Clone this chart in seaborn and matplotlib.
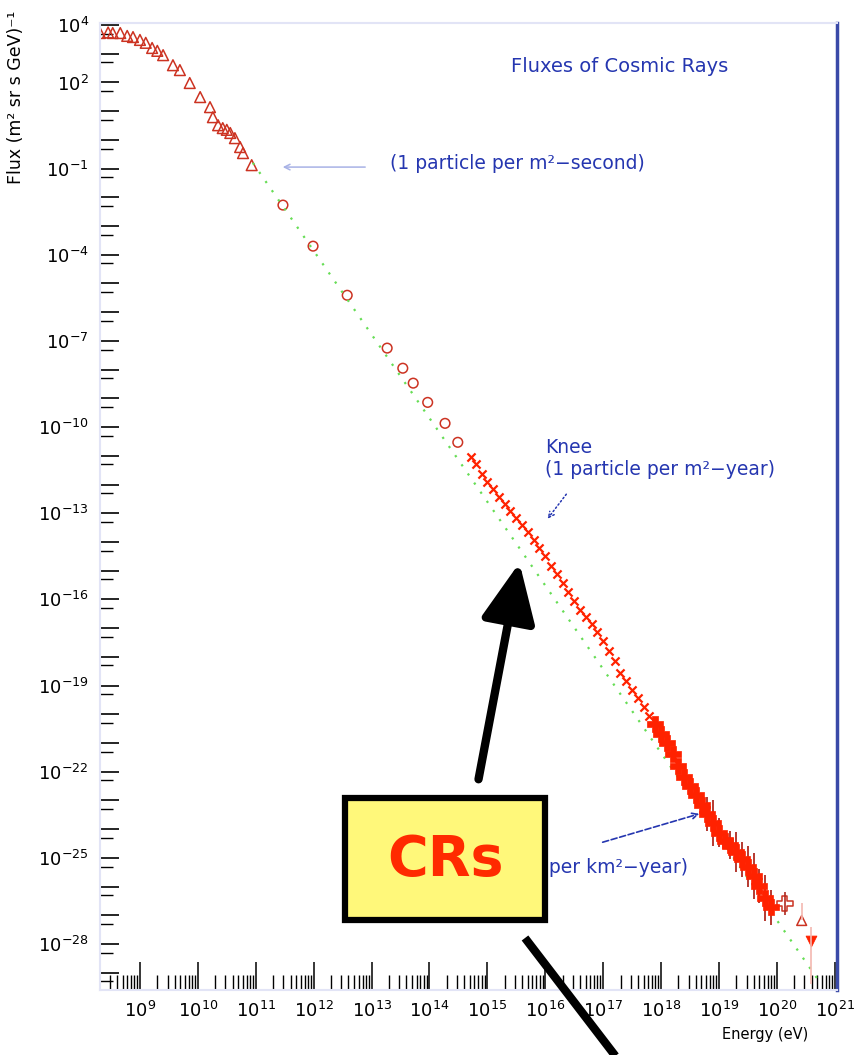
import numpy as np
import pandas as pd
import matplotlib
matplotlib.use("Agg")
import matplotlib.pyplot as plt
import seaborn as sns
from matplotlib.ticker import FixedLocator, FuncFormatter, LogLocator, NullFormatter
from matplotlib.patches import Rectangle, FancyArrowPatch
from matplotlib.lines import Line2D

# log10 energy (eV) / log10 flux (m^2 sr s GeV)^-1
tri_logE = [8.31, 8.45, 8.53, 8.66, 8.78, 8.88, 9.0, 9.1, 9.21, 9.3, 9.4, 9.57, 9.69, 9.86,
            10.04, 10.21, 10.26, 10.35, 10.43, 10.5, 10.56, 10.64, 10.73, 10.78, 10.93]
tri_logF = [3.72, 3.74, 3.72, 3.72, 3.62, 3.58, 3.48, 3.38, 3.2, 3.1, 2.95, 2.6, 2.43, 1.98,
            1.49, 1.14, 0.79, 0.51, 0.41, 0.35, 0.24, 0.06, -0.25, -0.46, -0.88]

circ_logE = [11.47, 11.99, 12.58, 13.27, 13.54, 13.72, 13.97, 14.27, 14.49]
circ_logF = [-2.27, -3.70, -5.41, -7.25, -7.95, -8.47, -9.14, -9.87, -10.53]

knee_logE = [14.72, 14.8, 14.9, 15.0, 15.1, 15.2, 15.3, 15.4, 15.5, 15.6, 15.7, 15.8, 15.9,
             16.0, 16.1, 16.2, 16.3, 16.4, 16.5, 16.6, 16.7, 16.8, 16.9, 17.0, 17.1, 17.2,
             17.3, 17.4, 17.5, 17.6, 17.7, 17.8]
knee_logF = [-11.05, -11.3, -11.62, -11.9, -12.15, -12.45, -12.68, -12.92, -13.15, -13.4,
             -13.66, -13.92, -14.2, -14.5, -14.82, -15.12, -15.43, -15.75, -16.05, -16.36,
             -16.62, -16.86, -17.12, -17.45, -17.8, -18.15, -18.55, -18.85, -19.15, -19.45,
             -19.75, -20.05]

uhe_logE = [17.9, 18.0, 18.1, 18.2, 18.3, 18.4, 18.5, 18.6, 18.7, 18.8, 18.9, 19.0, 19.1,
            19.2, 19.3, 19.4, 19.5, 19.6, 19.7, 19.8, 19.9]
uhe_logF = [-20.35, -20.68, -21.0, -21.38, -21.8, -22.2, -22.5, -22.82, -23.15, -23.48,
            -23.8, -24.12, -24.4, -24.55, -24.8, -25.05, -25.3, -25.62, -25.98, -26.4, -26.72]
uhe_err = [0.1, 0.1, 0.1, 0.15, 0.15, 0.15, 0.2, 0.2, 0.3, 0.6, 0.8, 0.5, 0.3, 0.5, 0.7,
           0.6, 0.7, 0.8, 0.6, 0.8, 0.6]

cross_logE = [20.14]
cross_logF = [-26.59]
agasa_logE = [20.43]
agasa_logF = [-27.18]
limit_logE = [20.59]
limit_logF = [-27.88]

# E^-2.7-ish reference line (two end points)
ref_logE = [10.95, 20.75]
ref_logF = [-0.8, -29.35]

y_labelled = [4, 2, -1, -4, -7, -10, -13, -16, -19, -22, -25, -28]

red_dark = "#cc3322"
red = "#ff2200"
blue = "#2536b0"

sns.set_style("white")
plt.rcParams["font.family"] = ["DejaVu Sans"]


def to_df(le, lf):
    return pd.DataFrame({"energy": 10.0 ** np.array(le), "flux": 10.0 ** np.array(lf)})


fig = plt.figure(figsize=(8.61, 10.55), dpi=100)
ax = fig.add_axes([100 / 861, 1 - 990 / 1055, 737 / 861, 967 / 1055])
ax.set_xscale("log")
ax.set_yscale("log")

sns.lineplot(data=to_df(ref_logE, ref_logF), x="energy", y="flux", ax=ax,
             color="#66dd55", linestyle=(0, (1, 4)), linewidth=1.6)

sns.scatterplot(data=to_df(tri_logE, tri_logF), x="energy", y="flux", ax=ax,
                marker="^", s=60, facecolor="none", edgecolor=red_dark, linewidth=1.1)
sns.scatterplot(data=to_df(circ_logE, circ_logF), x="energy", y="flux", ax=ax,
                marker="o", s=48, facecolor="none", edgecolor=red_dark, linewidth=1.1)
sns.scatterplot(data=to_df(knee_logE, knee_logF), x="energy", y="flux", ax=ax,
                marker="x", s=34, color=red, linewidth=1.6)

uhe = to_df(uhe_logE, uhe_logF)
lo = uhe["flux"] - uhe["flux"] * 10.0 ** (-np.array(uhe_err))
hi = uhe["flux"] * 10.0 ** np.array(uhe_err) - uhe["flux"]
ax.errorbar(uhe["energy"], uhe["flux"], yerr=[lo, hi], fmt="none",
            ecolor="#b02a20", elinewidth=1.3)
sns.scatterplot(data=uhe, x="energy", y="flux", ax=ax,
                marker="P", s=120, color=red, edgecolor=red, linewidth=0.5, zorder=3)

cr = to_df(cross_logE, cross_logF)
ax.errorbar(cr["energy"], cr["flux"], yerr=[cr["flux"] * 0.6, cr["flux"] * 1.5],
            fmt="none", ecolor="#b02a20", elinewidth=1.2)
sns.scatterplot(data=cr, x="energy", y="flux", ax=ax, marker="P", s=120,
                facecolor="none", edgecolor=red_dark, linewidth=1.1)

ag = to_df(agasa_logE, agasa_logF)
ax.errorbar(ag["energy"], ag["flux"], yerr=[ag["flux"] * 0.0, ag["flux"] * 3.0],
            fmt="none", ecolor="#f4b8b0", elinewidth=1.2)
sns.scatterplot(data=ag, x="energy", y="flux", ax=ax, marker="^", s=50,
                facecolor="none", edgecolor=red_dark, linewidth=1.1)

lm = to_df(limit_logE, limit_logF)
ax.errorbar(lm["energy"], lm["flux"], yerr=[lm["flux"] * 0.97, lm["flux"] * 2.0],
            fmt="none", ecolor="#f4b8b0", elinewidth=1.2)
sns.scatterplot(data=lm, x="energy", y="flux", ax=ax, marker="v", s=60,
                color=red, edgecolor=red)

ax.set_xlim(10 ** 8.31, 10 ** 21.04)
ax.set_ylim(10 ** -29.6, 10 ** 4.07)

# ticks
exp_fmt = FuncFormatter(lambda v, p: f"$10^{{{int(round(np.log10(v)))}}}$")
ax.xaxis.set_major_locator(LogLocator(base=10, numticks=40))
ax.xaxis.set_minor_locator(LogLocator(base=10, subs=np.arange(2, 10), numticks=40))
ax.xaxis.set_major_formatter(exp_fmt)
ax.xaxis.set_minor_formatter(NullFormatter())

ax.yaxis.set_major_locator(FixedLocator([10.0 ** k for k in range(-29, 5)]))
ax.yaxis.set_minor_locator(FixedLocator([5 * 10.0 ** k for k in range(-30, 4)]))
ax.yaxis.set_major_formatter(FuncFormatter(
    lambda v, p: f"$10^{{{int(round(np.log10(v)))}}}$" if int(round(np.log10(v))) in y_labelled else ""))
ax.yaxis.set_minor_formatter(NullFormatter())

ax.tick_params(axis="x", which="major", direction="in", length=20, width=1.1, pad=8,
               labelsize=13, color="black", labelcolor="black", bottom=True, top=False)
ax.tick_params(axis="x", which="minor", direction="in", length=11, width=1.0,
               color="black", bottom=True, top=False)
ax.tick_params(axis="y", which="major", direction="in", length=14, width=1.2, pad=8,
               labelsize=13, color="black", labelcolor="black", left=True, right=False)
ax.tick_params(axis="y", which="minor", direction="in", length=9, width=1.0,
               color="black", left=True, right=False)

for side in ["left", "top", "bottom"]:
    ax.spines[side].set_color("#e2e4f6")
    ax.spines[side].set_linewidth(1.5)
ax.spines["right"].set_color("#3a4aa8")
ax.spines["right"].set_linewidth(2.5)

ax.set_xlabel("Energy (eV)", fontsize=10.5, loc="right", color="black")
ax.xaxis.set_label_coords(0.961, -0.038)
ax.set_ylabel("Flux (m² sr s GeV)⁻¹", fontsize=12.5, loc="top", color="black")
ax.yaxis.set_label_coords(-0.102, 1.013)

# annotations
ax.text(0.7056, 0.9545, "Fluxes of Cosmic Rays", transform=ax.transAxes,
        ha="center", va="center", color=blue, fontsize=14)
ax.annotate("", xy=(0.2442, 0.851), xytext=(0.3636, 0.851),
            xycoords="axes fraction", textcoords="axes fraction",
            arrowprops=dict(arrowstyle="->", color="#a8b2e6", lw=1.1))
ax.text(0.3935, 0.855, "(1 particle per m²\u2212second)", transform=ax.transAxes,
        ha="left", va="center", color=blue, fontsize=13.5)

ax.text(0.6038, 0.5605, "Knee", transform=ax.transAxes,
        ha="left", va="center", color=blue, fontsize=13.5)
ax.text(0.6038, 0.5378, "(1 particle per m²\u2212year)", transform=ax.transAxes,
        ha="left", va="center", color=blue, fontsize=13.5)
ax.annotate("", xy=(0.605, 0.485), xytext=(0.635, 0.515),
            xycoords="axes fraction", textcoords="axes fraction",
            arrowprops=dict(arrowstyle="->", color=blue, lw=1.1, linestyle=":"))

# partly covered by the CRs box, as in the original slide
ax.text(0.7978, 0.1262, "(1 particle per km²\u2212year)", transform=ax.transAxes,
        ha="right", va="center", color=blue, fontsize=13.5)
ax.annotate("", xy=(0.8168, 0.183), xytext=(0.6784, 0.152),
            xycoords="axes fraction", textcoords="axes fraction",
            arrowprops=dict(arrowstyle="->", color=blue, lw=1.2, linestyle="--"))

# overlay: CRs box with black pointers (figure pixel fractions)
W, H = 861.0, 1055.0
fig.add_artist(Rectangle((345 / W, 1 - 920 / H), 200 / W, 122 / H, transform=fig.transFigure,
                         facecolor="#fff87a", edgecolor="black", linewidth=4.5, zorder=5))
fig.text(445 / W, 1 - 860 / H, "CRs", ha="center", va="center", color="#ff2a00",
         fontsize=40, fontweight="bold", zorder=6)
fig.add_artist(FancyArrowPatch((478 / W, 1 - 782 / H), (520 / W, 1 - 560 / H),
                               transform=fig.transFigure, arrowstyle="-|>,head_length=1.2,head_width=0.55",
                               mutation_scale=30, color="black", lw=6, zorder=6))
fig.add_artist(Line2D([525 / W, 620 / W], [1 - 938 / H, 1 - 1062 / H], transform=fig.transFigure,
                      color="black", lw=6, solid_capstyle="butt", zorder=6))

fig.savefig("out.png", dpi=100)
